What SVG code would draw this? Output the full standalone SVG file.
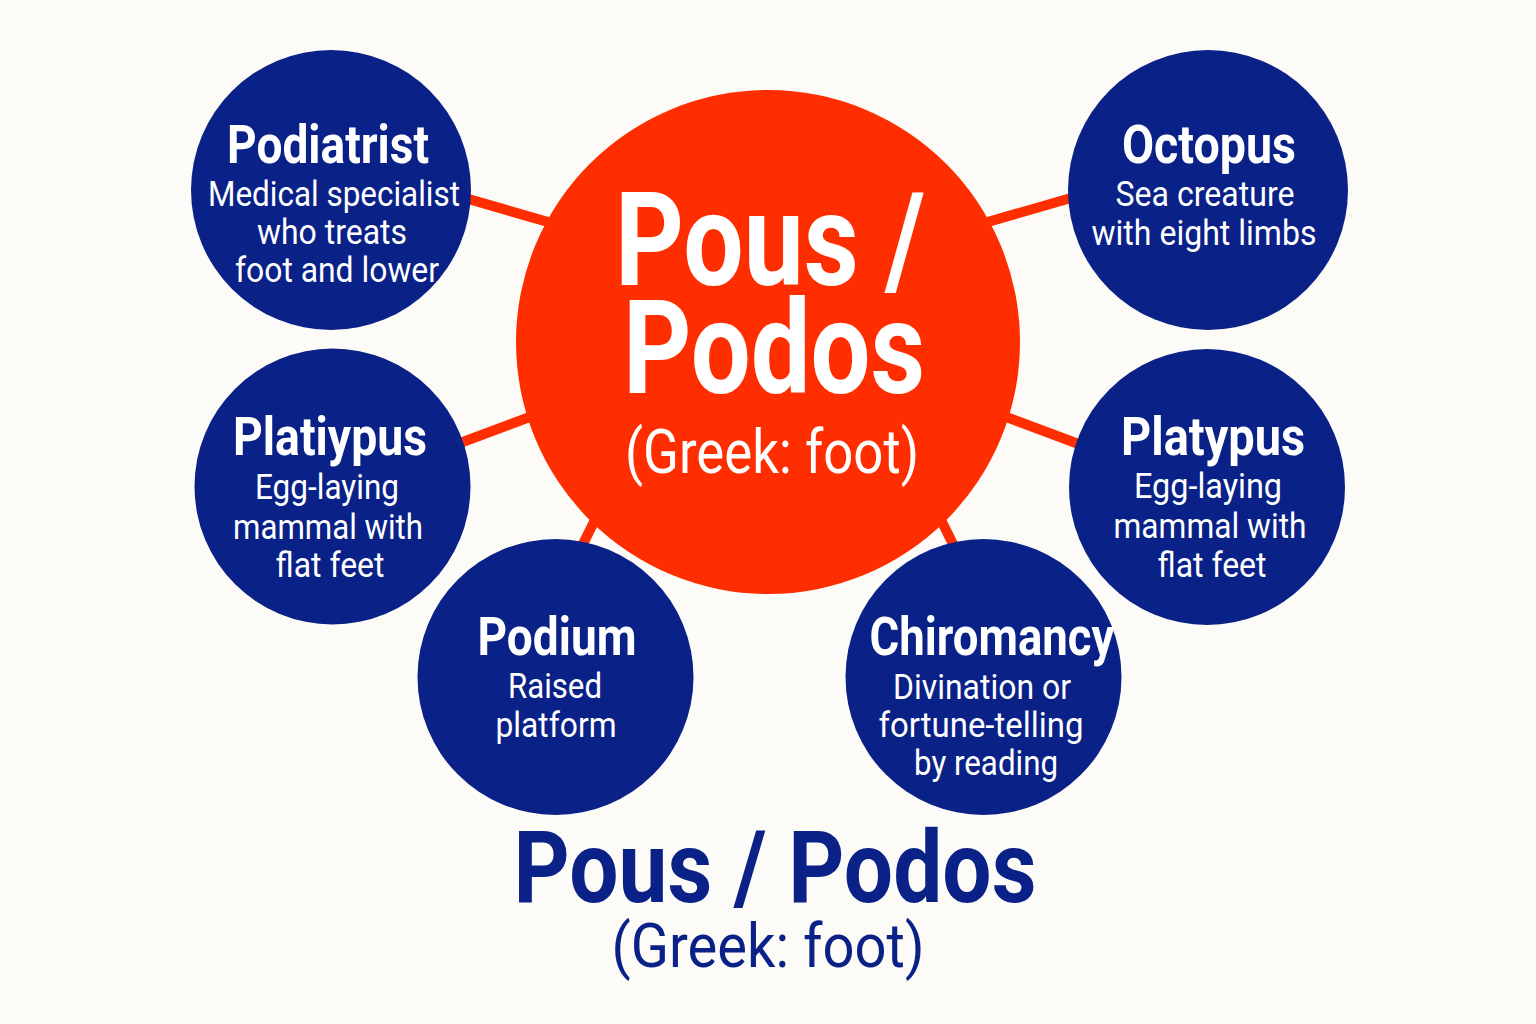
<svg xmlns="http://www.w3.org/2000/svg" width="1536" height="1024" viewBox="0 0 1536 1024">
<style>
.bg{fill:#fdfbf8}
.node{fill:#0a2287}
.hub{fill:#ff2e00}
.conn{stroke:#ff2e00;stroke-width:10;stroke-linecap:butt;fill:none}
text{font-family:Roboto,"Liberation Sans",sans-serif;text-anchor:middle}
.t{font-weight:700;font-size:54px;fill:#ffffff}
.s{font-weight:400;font-size:35px;fill:#ffffff}
.ht{font-weight:700;font-size:130px;fill:#ffffff}
.hs{font-weight:400;font-size:61px;fill:#ffffff}
.bt{font-weight:700;font-size:101px;fill:#0a2287}
.bs{font-weight:400;font-size:62px;fill:#0a2287}
</style>
<rect class="bg" x="0" y="0" width="1536" height="1024"/>
<g id="connectors">
<line class="conn" x1="420" y1="185" x2="600" y2="237"/>
<line class="conn" x1="1116" y1="185" x2="936" y2="237"/>
<line class="conn" x1="420" y1="458" x2="570" y2="402"/>
<line class="conn" x1="1116" y1="458" x2="966" y2="402"/>
<line class="conn" x1="570" y1="570" x2="605" y2="500"/>
<line class="conn" x1="966" y1="570" x2="931" y2="500"/>
</g>
<g id="hub">
<circle class="hub" cx="768" cy="342" r="252"/>
<text class="ht" x="770" y="285" textLength="310" lengthAdjust="spacingAndGlyphs">Pous /</text>
<text class="ht" x="774" y="393" textLength="302" lengthAdjust="spacingAndGlyphs">Podos</text>
<text class="hs" x="772" y="473" textLength="294" lengthAdjust="spacingAndGlyphs">(Greek: foot)</text>
</g>
<g id="podiatrist">
<circle class="node" cx="331" cy="190" r="140"/>
<text class="t" x="328" y="163" textLength="202" lengthAdjust="spacingAndGlyphs">Podiatrist</text>
<text class="s" x="334" y="206" textLength="252" lengthAdjust="spacingAndGlyphs">Medical specialist</text>
<text class="s" x="332" y="244" textLength="150" lengthAdjust="spacingAndGlyphs">who treats</text>
<text class="s" x="337" y="282" textLength="204" lengthAdjust="spacingAndGlyphs">foot and lower</text>
</g>
<g id="octopus">
<circle class="node" cx="1208" cy="190" r="140"/>
<text class="t" x="1209" y="163" textLength="174" lengthAdjust="spacingAndGlyphs">Octopus</text>
<text class="s" x="1205" y="206" textLength="179" lengthAdjust="spacingAndGlyphs">Sea creature</text>
<text class="s" x="1204" y="245" textLength="225" lengthAdjust="spacingAndGlyphs">with eight limbs</text>
</g>
<g id="platiypus">
<circle class="node" cx="332.5" cy="486.5" r="138"/>
<text class="t" x="330" y="455" textLength="194" lengthAdjust="spacingAndGlyphs">Platiypus</text>
<text class="s" x="327" y="499" textLength="144" lengthAdjust="spacingAndGlyphs">Egg-laying</text>
<text class="s" x="328" y="539" textLength="190" lengthAdjust="spacingAndGlyphs">mammal with</text>
<text class="s" x="330" y="577" textLength="109" lengthAdjust="spacingAndGlyphs">flat feet</text>
</g>
<g id="platypus">
<circle class="node" cx="1207" cy="487" r="138"/>
<text class="t" x="1213" y="455" textLength="184" lengthAdjust="spacingAndGlyphs">Platypus</text>
<text class="s" x="1208" y="498" textLength="148" lengthAdjust="spacingAndGlyphs">Egg-laying</text>
<text class="s" x="1210" y="538" textLength="193" lengthAdjust="spacingAndGlyphs">mammal with</text>
<text class="s" x="1212" y="577" textLength="109" lengthAdjust="spacingAndGlyphs">flat feet</text>
</g>
<g id="podium">
<circle class="node" cx="555.5" cy="677" r="138"/>
<text class="t" x="557" y="655" textLength="159" lengthAdjust="spacingAndGlyphs">Podium</text>
<text class="s" x="555" y="698" textLength="94" lengthAdjust="spacingAndGlyphs">Raised</text>
<text class="s" x="556" y="737" textLength="121" lengthAdjust="spacingAndGlyphs">platform</text>
</g>
<g id="chiromancy">
<circle class="node" cx="983.5" cy="677" r="138"/>
<text class="t" x="992" y="655" textLength="245" lengthAdjust="spacingAndGlyphs">Chiromancy</text>
<text class="s" x="982" y="699" textLength="178" lengthAdjust="spacingAndGlyphs">Divination or</text>
<text class="s" x="981" y="737" textLength="205" lengthAdjust="spacingAndGlyphs">fortune-telling</text>
<text class="s" x="986" y="775" textLength="144" lengthAdjust="spacingAndGlyphs">by reading</text>
</g>
<g id="title">
<text class="bt" x="775" y="902" textLength="523" lengthAdjust="spacingAndGlyphs">Pous / Podos</text>
<text class="bs" x="768" y="967" textLength="313" lengthAdjust="spacingAndGlyphs">(Greek: foot)</text>
</g>
</svg>
